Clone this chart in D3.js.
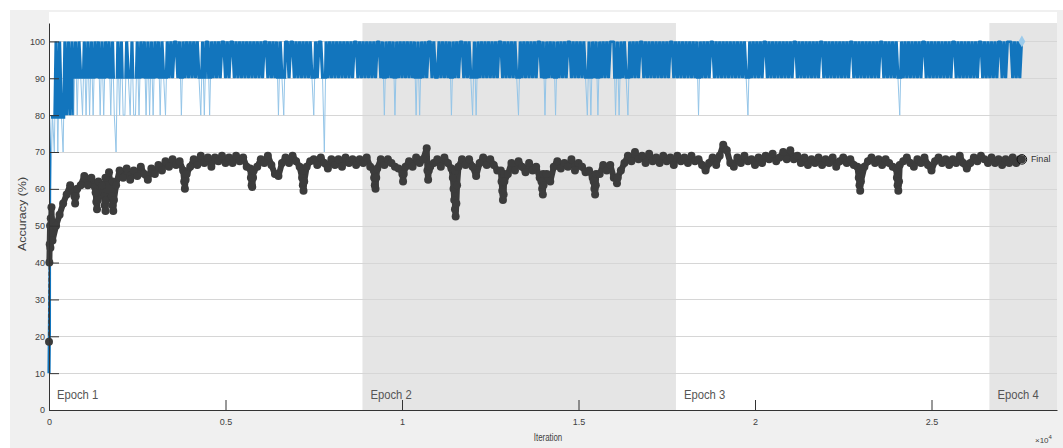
<!DOCTYPE html>
<html>
<head>
<meta charset="utf-8">
<script src="https://cdn.jsdelivr.net/npm/d3@7"></script>
<style>
  body { margin: 0; background: #fff; }
  text { font-family: "Liberation Sans", Arial, Helvetica, sans-serif; }
</style>
</head>
<body>
<script>
// epochs
var epochLabels = ["Epoch 1", "Epoch 2", "Epoch 3", "Epoch 4"];
var epochStarts = [0, 8880, 17760, 26640];
var xMax = 28555;

// ticks
var yTicks = [0, 10, 20, 30, 40, 50, 60, 70, 80, 90, 100];
var xTicks = [0, 5000, 10000, 15000, 20000, 25000];
var xTickLabels = ["0", "0.5", "1", "1.5", "2", "2.5"];

// training accuracy, one char every 50 iterations: "a" = 100, digit d = d*10
var trainStep = 50;
var trainRaw =
  "1687a7a87a" + "8a8a8a8a98" + "a8a8a8a9a8" + "a8a9a8a87a" + "8a88a98a88" +
  "a8a9a8a8a8" + "a9a8a98a9a" + "9aa9a8a9a9" + "a9a9a98a8a" + "a8a9a9a9aa" +
  "9a9aa9a9a9" + "a9a9a9a9a9" + "a9aa9a9a9a" + "8a98aa9aa9" + "a9a9a9a9a9" +
  "8a9aa97a9a" + "9a9a9a9a9a" + "9a9aa9a9a9" + "a9a9a9aa9a" + "8a9a9a8a9a" +
  "9a9a9a9a8a" + "8a9a9aa9a9" + "9a9a9a9a8a" + "9a9aa9a9a9" + "8a8a9a9a9a" +
  "9a9a9aa9a9" + "a9a9a98a9a" + "9a9a9a9aa9" + "a8a9a9a8a9" + "a9a9aa9a9a" +
  "9a9a98a8a9" + "a8a9a9a9aa" + "a8a8a9a98a" + "9a9a9aa9a9" + "a9a9a9a9a9" +
  "a9aa9a9a9a" + "9a9a9a9a8a" + "9a9a9aa9a9" + "a9a9a9a9a9" + "a9a9a98a9a" +
  "9a9a9aa9a9" + "a9a9a9a9a9" + "a9aa9a9a9a" + "9a9a9a9aa9" + "a9a9a9a9a9" +
  "a9a9aa9a9a" + "9a9a9a9a9a" + "9aa9a9a9a9" + "a98a9a9a9a" + "9a9a9aa9a9" +
  "a9a9a9a9a9" + "a9aa9a9a9a" + "9a9a9a9aa9" + "a9a9a9a9aa" + "9a9aaa9a9a" +
  "9a";

// validation accuracy every 100 iterations
var valStep = 100;
var valAcc = [18.5,
  46, 50, 53, 56, 58.5, 61, 59, 60, 61, 63.5,
  61, 63, 60.5, 62, 61, 63, 64.5, 62, 61, 65,
  63, 65.5, 62.5, 65, 63.5, 66, 64, 62.5, 65.5, 64,
  66.5, 65, 67.5, 66, 68, 66.5, 67.5, 65, 64, 66,
  68, 66.5, 69, 67, 68.5, 66, 68.5, 67.5, 69, 67,
  68.5, 67, 69, 67.5, 68.5, 66, 65.5, 65, 66, 68,
  67, 69, 66.5, 64, 63.5, 67, 68.5, 67, 69, 67.5,
  66, 65, 66, 67.5, 68, 66.5, 68.5, 67, 65.5, 68,
  66.5, 68, 66, 68.5, 67, 68, 66.5, 68, 67, 68.5,
  66, 65, 65.5, 68, 66.5, 68, 67, 66, 65.5, 65,
  66, 67.5, 66, 68.5, 67, 68, 71, 66, 67, 68,
  66, 68.5, 67, 65.5, 65, 66, 68, 66.5, 68, 66,
  63.5, 67, 68.5, 66.5, 68, 66.5, 65, 65, 64, 64,
  67, 65, 67.5, 66, 64.5, 67, 65, 66, 63, 64,
  64, 62, 66, 67.5, 65.5, 67, 66, 68, 65, 67,
  66, 64.5, 65, 63, 64, 64, 66.5, 65, 66.5, 63,
  63, 65, 67, 69, 67.5, 70, 68, 69, 67, 69.5,
  67.5, 68.5, 67, 69, 67.5, 68.5, 66.5, 69, 67.5, 68.5,
  67, 69, 67.5, 68, 66.5, 65, 67, 68.5, 66.5, 69,
  72, 70.5, 67, 66, 68.5, 67, 69, 67.5, 68, 66.5,
  68.5, 67, 69, 68, 69.5, 67.5, 68.5, 70, 68, 70.5,
  68, 69, 67, 68.5, 66.5, 68, 67, 68.5, 66.5, 68,
  67, 68.5, 66, 67.5, 68.5, 67, 68, 66.5, 66, 65.5,
  66, 67.5, 68.5, 67, 68, 66.5, 68, 67, 66, 65.5,
  66.5, 67.5, 68.5, 67, 66, 68, 67, 68.5, 66.5, 65,
  67.5, 68.5, 67, 68, 66.5, 68, 67, 69, 67, 65.5,
  67, 68.5, 67.5, 69, 68, 67, 68.5, 67, 68, 66.5,
  68, 67, 68.5, 67, 68];

// extra validation points (start of training and the sharp dips)
var valExtraIter = [10, 20, 30, 40, 50, 60, 70, 80,
  720, 740, 760, 1320, 1340, 1360, 1380, 1560, 1580, 1600, 1620,
  1780, 1800, 1820, 1840, 3830, 3850, 3870, 5720, 5740, 5760, 5780,
  7170, 7190, 7210, 7230, 9210, 9230, 9250, 9270, 10010, 10030, 10050,
  10720, 10740, 10760, 11440, 11460, 11480, 11500, 11520, 11540, 11560,
  12820, 12840, 12860, 12880, 12900, 13950, 13970, 13990, 14010,
  15430, 15450, 15470, 15490, 16070, 16090, 16110,
  22940, 22960, 22980, 23000, 24020, 24040, 24060, 24080];
var valExtraAcc = [40, 45, 50, 44, 52, 48, 55, 51,
  58, 56, 58, 59, 56.5, 54.5, 57, 58, 55.5, 54, 57,
  58, 55.5, 54, 57, 62, 60, 62.5, 63, 61, 60.5, 63,
  63, 61, 59.5, 62, 63, 61, 60, 63, 64, 62, 64,
  65, 62.5, 65, 63, 60, 57, 54.5, 52.5, 56, 61,
  62, 59.5, 57, 58.5, 62, 62, 60, 58.5, 61,
  62, 60, 58.5, 61, 63, 61.5, 63,
  63, 61, 59.5, 62, 63, 61, 59.5, 62];

var finalIter = 27560;
var finalTrain = 100;
var finalVal = 68;

var width = 1063;
var height = 448;
var plot = { left: 49, right: 1057, top: 23, bottom: 410 };

var svg = d3.select("body")
  .append("svg")
  .attr("width", width)
  .attr("height", height);

// figure panel
svg.append("rect")
  .attr("x", 10).attr("y", 10)
  .attr("width", width - 10).attr("height", height - 10)
  .attr("fill", "#f0f0f0");

var xScale = d3.scaleLinear().domain([0, xMax]).range([plot.left, plot.right]);
var yScale = d3.scaleLinear().domain([0, 105]).range([plot.bottom, plot.top]);

// plot background
svg.append("rect")
  .attr("x", plot.left).attr("y", 12)
  .attr("width", plot.right - plot.left).attr("height", plot.bottom - 12)
  .attr("fill", "#fff");

// epoch shading (every second epoch)
var epochEnds = epochStarts.slice(1).concat([xMax]);
svg.selectAll(".epochBand")
  .data(epochStarts)
  .enter()
  .append("rect")
  .attr("class", "epochBand")
  .attr("x", function (d) { return xScale(d); })
  .attr("y", plot.top)
  .attr("width", function (d, i) { return xScale(epochEnds[i]) - xScale(d); })
  .attr("height", plot.bottom - plot.top)
  .attr("fill", function (d, i) { return i % 2 === 1 ? "#e5e5e5" : "none"; });

// horizontal grid
svg.selectAll(".grid")
  .data(yTicks.slice(1))
  .enter()
  .append("line")
  .attr("class", "grid")
  .attr("x1", plot.left).attr("x2", plot.right)
  .attr("y1", function (d) { return Math.round(yScale(d)) + 0.5; })
  .attr("y2", function (d) { return Math.round(yScale(d)) + 0.5; })
  .attr("stroke", "#d6d6d6")
  .attr("stroke-width", 1);

// epoch labels
svg.selectAll(".epochLabel")
  .data(epochLabels)
  .enter()
  .append("text")
  .attr("class", "epochLabel")
  .attr("transform", function (d, i) {
    return "translate(" + (xScale(epochStarts[i]) + 8) + ",399) scale(0.9,1)";
  })
  .attr("font-size", "12.5px")
  .attr("fill", "#555")
  .text(function (d) { return d; });

// training accuracy
var trainPts = trainRaw.split("").map(function (c, i) {
  return [i * trainStep, c === "a" ? 100 : +c * 10];
});
trainPts.push([finalIter, finalTrain]);

var line = d3.line()
  .x(function (d) { return xScale(d[0]); })
  .y(function (d) { return yScale(d[1]); });

var clip = svg.append("defs").append("clipPath").attr("id", "bandClip");
clip.append("rect")
  .attr("x", plot.left - 2).attr("y", yScale(100) - 1)
  .attr("width", xScale(finalIter) - plot.left + 4)
  .attr("height", yScale(90) - yScale(100) + 1.5);
clip.append("rect")
  .attr("x", plot.left - 2).attr("y", yScale(100) - 1)
  .attr("width", xScale(700) - plot.left + 2)
  .attr("height", yScale(79) - yScale(100) + 1);
clip.append("rect")
  .attr("x", plot.left - 2).attr("y", plot.top)
  .attr("width", xScale(60) - plot.left + 2)
  .attr("height", plot.bottom - plot.top);

svg.append("path")
  .datum(trainPts)
  .attr("d", line)
  .attr("fill", "none")
  .attr("stroke", "#94c5e8")
  .attr("stroke-width", 1);

svg.append("path")
  .datum(trainPts)
  .attr("d", line)
  .attr("clip-path", "url(#bandClip)")
  .attr("fill", "none")
  .attr("stroke", "#1275bd")
  .attr("stroke-width", 3.2)
  .attr("stroke-linejoin", "bevel");

// validation accuracy
var valPts = valAcc.map(function (v, i) { return [i * valStep, v]; })
  .concat(valExtraIter.map(function (it, i) { return [it, valExtraAcc[i]]; }))
  .concat([[finalIter, finalVal]]);
valPts.sort(function (a, b) { return a[0] - b[0]; });

svg.append("path")
  .datum(valPts)
  .attr("d", line)
  .attr("fill", "none")
  .attr("stroke", "#3c3c3c")
  .attr("stroke-width", 1.5)
  .attr("stroke-dasharray", "4,2");

// dense markers make the thick band; the thick stroke closes the gaps between them
svg.append("path")
  .datum(valPts.slice(1))
  .attr("d", line)
  .attr("fill", "none")
  .attr("stroke", "#3c3c3c")
  .attr("stroke-width", 6)
  .attr("stroke-linejoin", "round")
  .attr("stroke-linecap", "round");

svg.selectAll(".valDot")
  .data(valPts)
  .enter()
  .append("circle")
  .attr("class", "valDot")
  .attr("cx", function (d) { return xScale(d[0]); })
  .attr("cy", function (d) { return yScale(d[1]); })
  .attr("r", 4)
  .attr("fill", "#3c3c3c");

// final markers
svg.append("path")
  .attr("d", d3.symbol().type(d3.symbolDiamond).size(40))
  .attr("transform", "translate(" + xScale(finalIter) + "," + yScale(finalTrain) + ")")
  .attr("fill", "#9ccbeb");

svg.append("circle")
  .attr("cx", xScale(finalIter))
  .attr("cy", yScale(finalVal))
  .attr("r", 4.8)
  .attr("fill", "none")
  .attr("stroke", "#111")
  .attr("stroke-width", 1);

svg.append("text")
  .attr("x", xScale(finalIter) + 9)
  .attr("y", yScale(finalVal) + 3)
  .attr("font-size", "9px")
  .attr("fill", "#333")
  .text("Final");

// axes
var yAxis = d3.axisLeft(yScale)
  .tickValues(yTicks)
  .tickSizeInner(-10)
  .tickSizeOuter(0)
  .tickPadding(4);

var xAxis = d3.axisBottom(xScale)
  .tickValues(xTicks)
  .tickFormat(function (d, i) { return xTickLabels[i]; })
  .tickSizeInner(-10)
  .tickSizeOuter(0)
  .tickPadding(9);

var gy = svg.append("g")
  .attr("transform", "translate(" + plot.left + ",0)")
  .call(yAxis);

var gx = svg.append("g")
  .attr("transform", "translate(0," + plot.bottom + ")")
  .call(xAxis);

[gx, gy].forEach(function (g) {
  g.select(".domain").attr("stroke", "#333");
  g.selectAll(".tick line").attr("stroke", "#333");
  g.selectAll(".tick text")
    .attr("fill", "#404040")
    .style("font-size", "9px")
    .style("font-family", "'Liberation Sans', Arial, sans-serif");
});

// axis titles
svg.append("text")
  .attr("transform", "translate(26,214) scale(0.8,1) rotate(-90)")
  .attr("text-anchor", "middle")
  .attr("font-size", "12.5px")
  .attr("fill", "#404040")
  .text("Accuracy (%)");

svg.append("text")
  .attr("transform", "translate(548,441) scale(0.75,1)")
  .attr("text-anchor", "middle")
  .attr("font-size", "10.5px")
  .attr("fill", "#404040")
  .text("Iteration");

var expo = svg.append("text")
  .attr("x", 1035)
  .attr("y", 443)
  .attr("font-size", "8px")
  .attr("fill", "#404040");
expo.append("tspan").text("\u00d710");
expo.append("tspan").attr("dy", -4).attr("font-size", "6px").text("4");
</script>
</body>
</html>
